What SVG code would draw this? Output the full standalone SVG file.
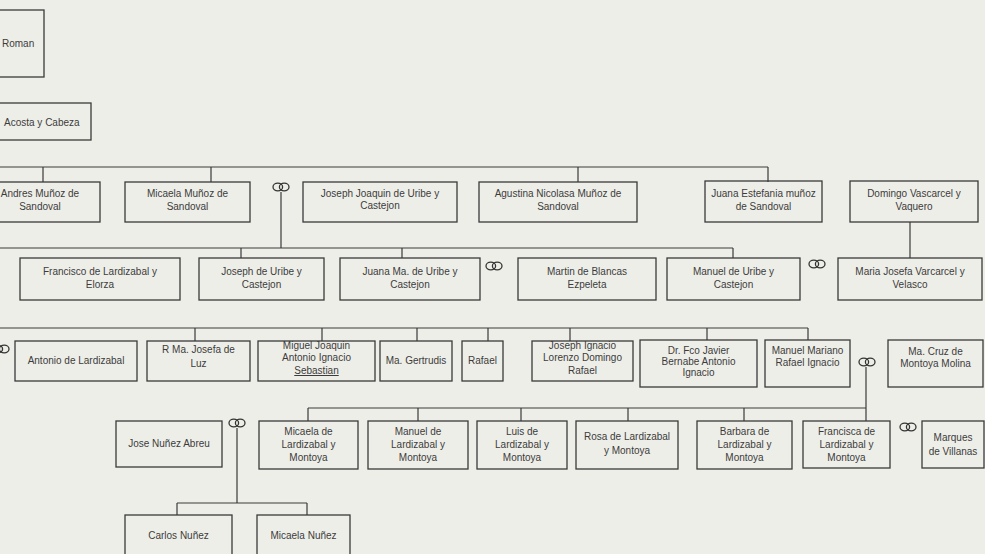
<svg xmlns="http://www.w3.org/2000/svg" width="985" height="554" viewBox="0 0 985 554">
<defs>
<style>
.bg{fill:#eeeee8}
.box{fill:none;stroke:#3a3a3a;stroke-width:1.3}
.ln{fill:none;stroke:#3a3a3a;stroke-width:1.2}
.t{font-family:"Liberation Sans",Arial,sans-serif;font-size:10px;fill:#3c3c3c;text-anchor:middle}
.tl{font-family:"Liberation Sans",Arial,sans-serif;font-size:10px;fill:#3c3c3c}
.ring{fill:none;stroke:#333;stroke-width:1.3}
</style>
<g id="marriage">
<ellipse class="ring" cx="-3.2" cy="0" rx="4.8" ry="3.8"/>
<ellipse class="ring" cx="3.2" cy="0" rx="4.8" ry="3.8"/>
</g>
</defs>
<rect class="bg" x="0" y="0" width="985" height="554"/>

<g id="connectors">
<path class="ln" d="M0,167 H768 M43,167 V182 M211,167 V182 M578,167 V182 M768,167 V182"/>
<path class="ln" d="M281,192 V248"/>
<path class="ln" d="M0,248 H733 M241,248 V258 M402,248 V258 M733,248 V258"/>
<path class="ln" d="M910,222 V258"/>
<path class="ln" d="M0,328 H808 M195,328 V341 M322,328 V341 M417,328 V341 M488,328 V341 M570,328 V341 M707,328 V340 M808,328 V340"/>
<path class="ln" d="M866,367 V421"/>
<path class="ln" d="M308,408 H866 M308,408 V421 M418,408 V421 M521,408 V421 M628,408 V421 M744,408 V421"/>
<path class="ln" d="M237,428 V503 M177,503 H307 M177,503 V515 M307,503 V515"/>
</g>

<g id="n-roman"><rect class="box" x="-10" y="10" width="54" height="67"/><text class="tl" x="2" y="47">Roman</text></g>
<g id="n-acosta"><rect class="box" x="-10" y="103" width="101" height="37"/><text class="tl" x="4" y="126">Acosta y Cabeza</text></g>

<g id="n-andres"><rect class="box" x="-20" y="182" width="120" height="40"/><text class="t" x="40" y="197">Andres Muñoz de</text><text class="t" x="40" y="210">Sandoval</text></g>
<g id="n-micaela-m"><rect class="box" x="125" y="182" width="125" height="40"/><text class="t" x="187.5" y="197">Micaela Muñoz de</text><text class="t" x="187.5" y="210">Sandoval</text></g>
<use id="m1" href="#marriage" x="281" y="187"/>
<g id="n-joseph-joaquin"><rect class="box" x="303" y="182" width="154" height="40"/><text class="t" x="380" y="197">Joseph Joaquin de Uribe y</text><text class="t" x="380" y="209">Castejon</text></g>
<g id="n-agustina"><rect class="box" x="479" y="182" width="158" height="40"/><text class="t" x="558" y="197">Agustina Nicolasa Muñoz de</text><text class="t" x="558" y="210">Sandoval</text></g>
<g id="n-juana-e"><rect class="box" x="705" y="181" width="117" height="41"/><text class="t" x="763.5" y="197">Juana Estefania muñoz</text><text class="t" x="763.5" y="210">de Sandoval</text></g>
<g id="n-domingo"><rect class="box" x="850" y="181" width="128" height="41"/><text class="t" x="914" y="197">Domingo Vascarcel y</text><text class="t" x="914" y="210">Vaquero</text></g>

<g id="n-francisco"><rect class="box" x="20" y="258" width="160" height="42"/><text class="t" x="100" y="275">Francisco de Lardizabal y</text><text class="t" x="100" y="288">Elorza</text></g>
<g id="n-joseph-u"><rect class="box" x="199" y="258" width="125" height="42"/><text class="t" x="261.5" y="275">Joseph de Uribe y</text><text class="t" x="261.5" y="288">Castejon</text></g>
<g id="n-juana-ma"><rect class="box" x="340" y="258" width="140" height="42"/><text class="t" x="410" y="275">Juana Ma. de Uribe y</text><text class="t" x="410" y="288">Castejon</text></g>
<use id="m2" href="#marriage" x="494" y="266"/>
<g id="n-martin"><rect class="box" x="518" y="258" width="138" height="42"/><text class="t" x="587" y="275">Martin de Blancas</text><text class="t" x="587" y="288">Ezpeleta</text></g>
<g id="n-manuel-u"><rect class="box" x="667" y="258" width="133" height="42"/><text class="t" x="733.5" y="275">Manuel de Uribe y</text><text class="t" x="733.5" y="288">Castejon</text></g>
<use id="m3" href="#marriage" x="817" y="264"/>
<g id="n-maria-josefa"><rect class="box" x="838" y="258" width="144" height="42"/><text class="t" x="910" y="275">Maria Josefa Varcarcel y</text><text class="t" x="910" y="288">Velasco</text></g>

<use id="m4" href="#marriage" x="1" y="349"/>
<g id="n-antonio"><rect class="box" x="15" y="341" width="122" height="40"/><text class="t" x="76" y="364">Antonio de Lardizabal</text></g>
<g id="n-rmajosefa"><rect class="box" x="147" y="341" width="103" height="40"/><text class="t" x="198.5" y="353">R Ma. Josefa de</text><text class="t" x="198.5" y="367">Luz</text></g>
<g id="n-miguel"><rect class="box" x="258" y="341" width="117" height="40"/><text class="t" x="316.5" y="349">Miguel Joaquin</text><text class="t" x="316.5" y="361">Antonio Ignacio</text><text class="t" x="316.5" y="374" text-decoration="underline">Sebastian</text></g>
<g id="n-gertrudis"><rect class="box" x="380" y="341" width="72" height="40"/><text class="t" x="416" y="364">Ma. Gertrudis</text></g>
<g id="n-rafael"><rect class="box" x="462" y="341" width="41" height="40"/><text class="t" x="482.5" y="364">Rafael</text></g>
<g id="n-joseph-i"><rect class="box" x="532" y="341" width="101" height="40"/><text class="t" x="582.5" y="349">Joseph Ignacio</text><text class="t" x="582.5" y="361">Lorenzo Domingo</text><text class="t" x="582.5" y="374">Rafael</text></g>
<g id="n-drfco"><rect class="box" x="640" y="340" width="117" height="47"/><text class="t" x="698.5" y="354">Dr. Fco  Javier</text><text class="t" x="698.5" y="365">Bernabe Antonio</text><text class="t" x="698.5" y="376">Ignacio</text></g>
<g id="n-manuel-m"><rect class="box" x="765" y="340" width="85" height="47"/><text class="t" x="807.5" y="354">Manuel Mariano</text><text class="t" x="807.5" y="366">Rafael Ignacio</text></g>
<use id="m5" href="#marriage" x="867" y="362"/>
<g id="n-macruz"><rect class="box" x="888" y="340" width="95" height="47"/><text class="t" x="935.5" y="355">Ma. Cruz de</text><text class="t" x="935.5" y="367">Montoya Molina</text></g>

<g id="n-jose-nunez"><rect class="box" x="116" y="421" width="106" height="46"/><text class="t" x="169" y="447">Jose Nuñez Abreu</text></g>
<use id="m6" href="#marriage" x="237" y="423"/>
<g id="n-micaela-l"><rect class="box" x="259" y="421" width="99" height="48"/><text class="t" x="308.5" y="435">Micaela de</text><text class="t" x="308.5" y="448">Lardizabal y</text><text class="t" x="308.5" y="461">Montoya</text></g>
<g id="n-manuel-l"><rect class="box" x="368" y="421" width="100" height="48"/><text class="t" x="418" y="435">Manuel de</text><text class="t" x="418" y="448">Lardizabal y</text><text class="t" x="418" y="461">Montoya</text></g>
<g id="n-luis"><rect class="box" x="477" y="421" width="90" height="48"/><text class="t" x="522" y="435">Luis de</text><text class="t" x="522" y="448">Lardizabal y</text><text class="t" x="522" y="461">Montoya</text></g>
<g id="n-rosa"><rect class="box" x="576" y="421" width="102" height="48"/><text class="t" x="627" y="440">Rosa de Lardizabal</text><text class="t" x="627" y="454">y Montoya</text></g>
<g id="n-barbara"><rect class="box" x="697" y="421" width="95" height="48"/><text class="t" x="744.5" y="435">Barbara de</text><text class="t" x="744.5" y="448">Lardizabal y</text><text class="t" x="744.5" y="461">Montoya</text></g>
<g id="n-francisca"><rect class="box" x="803" y="421" width="87" height="47"/><text class="t" x="846.5" y="435">Francisca de</text><text class="t" x="846.5" y="448">Lardizabal y</text><text class="t" x="846.5" y="461">Montoya</text></g>
<use id="m7" href="#marriage" x="908" y="427"/>
<g id="n-marques"><rect class="box" x="922" y="421" width="62" height="47"/><text class="t" x="953" y="441">Marques</text><text class="t" x="953" y="455">de Villanas</text></g>

<g id="n-carlos"><rect class="box" x="125" y="515" width="107" height="50"/><text class="t" x="178.5" y="539">Carlos Nuñez</text></g>
<g id="n-micaela-n"><rect class="box" x="257" y="515" width="93" height="50"/><text class="t" x="303.5" y="539">Micaela Nuñez</text></g>
</svg>
